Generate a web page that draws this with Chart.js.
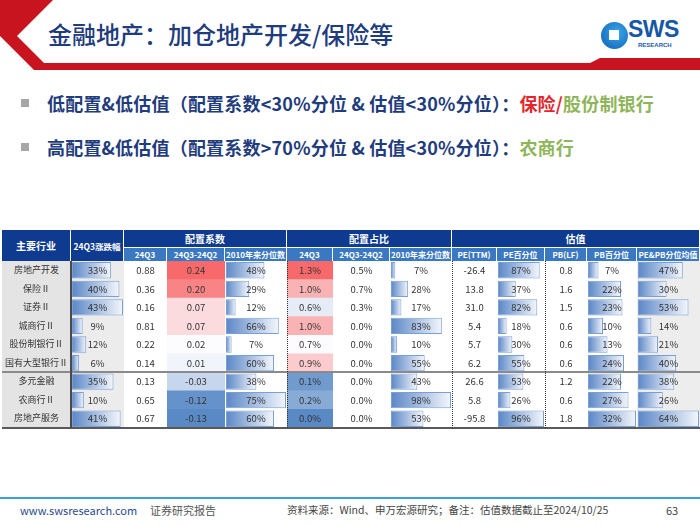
<!DOCTYPE html>
<html lang="zh-CN">
<head>
<meta charset="UTF-8">
<title>金融地产：加仓地产开发/保险等</title>
<script src="https://cdn.jsdelivr.net/npm/chart.js"></script>
<style>
  body { margin:0; width:700px; height:525px; position:relative; overflow:hidden; background:#fff;
         font-family:"Noto Sans CJK SC","Noto Sans",sans-serif; }
  .abs { position:absolute; }
  .title { left:48px; top:16px; font-size:24px; font-weight:500; color:#1f3c7d; white-space:nowrap; }
  .bullet { left:47px; font-size:18px; font-weight:bold; color:#1f3c7d; white-space:nowrap; letter-spacing:0.2px; }
  .sq { left:21px; width:8px; height:8px; background:#a6a6a6; }
  .hd { box-sizing:border-box; color:#fff; font-weight:bold; text-align:center; white-space:nowrap;
        border-right:1px solid #fff; display:flex; align-items:center; justify-content:center; }
  .cell { text-align:center; font-size:9.5px; color:#333; white-space:nowrap; z-index:3; }
  .foot { top:502px; white-space:nowrap; }
</style>
</head>
<body>
  <!-- red chevron + band -->
  <svg class="abs" style="left:0;top:0;z-index:0" width="700" height="80">
    <polygon points="0,0 53,0 17,36 44,63 590,63 600,58 700,58 700,70 34,70 0,36" fill="#c8141e"/>
  </svg>
  <div class="abs title">金融地产：加仓地产开发/保险等</div>

  <!-- logo -->
  <div class="abs" style="left:601px;top:22px;width:27px;height:27px;border-radius:50%;background:radial-gradient(circle at 60% 40%,#3aa6ea,#0d5fb0);"></div>
  <div class="abs" style="left:609px;top:30px;width:10px;height:10px;background:#fff;"></div>
  <div class="abs" style="left:628px;top:16px;font-size:23px;font-weight:bold;color:#1658a8;font-family:'Liberation Sans',sans-serif;letter-spacing:-0.5px;">SWS</div>
  <div class="abs" style="left:638px;top:42px;font-size:6px;font-weight:bold;color:#1658a8;font-family:'Liberation Sans',sans-serif;">RESEARCH</div>

  <!-- bullets -->
  <div class="abs sq" style="top:99px"></div>
  <div class="abs bullet" style="top:90px">低配置&amp;低估值（配置系数&lt;30%分位 &amp; 估值&lt;30%分位）：<span style="color:#e3262b">保险/</span><span style="color:#8fb55a">股份制银行</span></div>
  <div class="abs sq" style="top:143px"></div>
  <div class="abs bullet" style="top:134px">高配置&amp;低估值（配置系数&gt;70%分位 &amp; 估值&lt;30%分位）：<span style="color:#8fb55a">农商行</span></div>

  <div id="table"></div>

  <!-- footer -->
  <div class="abs" style="left:0;top:497px;width:700px;height:2px;background:#3aa0d8"></div>
  <div class="abs foot" style="left:20px;font-size:11px;color:#2a4b8d">www.swsresearch.com</div>
  <div class="abs foot" style="left:150px;font-size:11px;color:#555">证券研究报告</div>
  <div class="abs foot" style="left:287px;font-size:10.5px;color:#444">资料来源：Wind、申万宏源研究；备注：估值数据截止至2024/10/25</div>
  <div class="abs foot" style="left:666px;font-size:11px;color:#444">63</div>

<script>
// data
const industries    = ['房地产开发','保险Ⅱ','证券Ⅱ','城商行Ⅱ','股份制银行Ⅱ','国有大型银行Ⅱ','多元金融','农商行Ⅱ','房地产服务'];
const chg24Q3       = [33, 40, 43, 9, 12, 6, 35, 10, 41];            // 24Q3涨跌幅 %
const allocCoef     = [0.88, 0.36, 0.16, 0.81, 0.22, 0.14, 0.13, 0.65, 0.67];
const allocCoefChg  = [0.24, 0.20, 0.07, 0.07, 0.02, 0.01, -0.03, -0.12, -0.13];
const allocCoefPct  = [48, 29, 12, 66, 7, 60, 38, 75, 60];
const allocShare    = [1.3, 1.0, 0.6, 1.0, 0.7, 0.9, 0.1, 0.2, 0.0]; // %
const allocShareChg = [0.5, 0.7, 0.3, 0.0, 0.0, 0.0, 0.0, 0.0, 0.0];
const allocSharePct = [7, 28, 17, 83, 10, 55, 43, 98, 53];
const peTTM         = [-26.4, 13.8, 31.0, 5.4, 5.7, 6.2, 26.6, 5.8, -95.8];
const pePct         = [87, 37, 82, 18, 30, 55, 53, 26, 96];
const pbLF          = [0.8, 1.6, 1.5, 0.6, 0.6, 0.6, 1.2, 0.6, 1.8];
const pbPct         = [7, 22, 23, 10, 13, 24, 22, 27, 32];
const pePbPct       = [47, 30, 53, 14, 21, 40, 38, 26, 64];

const groupHeads = [['主要行业',0,0], ['24Q3涨跌幅',1,1], ['配置系数',2,4], ['配置占比',5,7], ['估值',8,12]];
const subHeads   = ['24Q3','24Q3-24Q2','2010年来分位数','24Q3','24Q3-24Q2','2010年来分位数',
                    'PE(TTM)','PE百分位','PB(LF)','PB百分位','PE&PB分位均值'];

// layout
const edges = [2, 71, 124, 167, 225, 287, 333, 390, 452, 497, 545, 587, 637, 700];
const TOP = 230, H1 = 17, H2 = 14, BODY = TOP + H1 + H2, BODY_H = 167, ROW_H = BODY_H / 9;

const pct = v => v + '%';
const f1 = v => v.toFixed(1);
const f2 = v => v.toFixed(2);
const columns = [
  { vals: industries, kind: 'text', bg: '#e4e4e4', size: 9 },
  { vals: chg24Q3, kind: 'bar', fmt: pct, bg: '#ececec' },
  { vals: allocCoef, kind: 'text', fmt: f2 },
  { vals: allocCoefChg, kind: 'heat', fmt: f2 },
  { vals: allocCoefPct, kind: 'bar', fmt: pct },
  { vals: allocShare, kind: 'heat', fmt: v => f1(v) + '%' },
  { vals: allocShareChg, kind: 'text', fmt: v => f1(v) + '%' },
  { vals: allocSharePct, kind: 'bar', fmt: pct },
  { vals: peTTM, kind: 'text', fmt: f1 },
  { vals: pePct, kind: 'bar', fmt: pct },
  { vals: pbLF, kind: 'text', fmt: f1 },
  { vals: pbPct, kind: 'bar', fmt: pct },
  { vals: pePbPct, kind: 'bar', fmt: pct, bg: '#ededed' }
];

const table = document.getElementById('table');
function box(x, y, w, h, css, text) {
  const d = document.createElement('div');
  d.className = 'abs';
  d.style.cssText += `left:${x}px;top:${y}px;width:${w}px;height:${h}px;` + (css || '');
  if (text !== undefined) d.textContent = text;
  table.appendChild(d);
  return d;
}

// headers
groupHeads.forEach(([t, a, b]) => {
  const span = a < 2;
  const d = box(edges[a], TOP, edges[b + 1] - edges[a], span ? H1 + H2 : H1,
    'background:#0e3b8f;font-size:' + (a === 1 ? 8.5 : 10) + 'px;', t);
  d.classList.add('hd');
});
subHeads.forEach((t, i) => {
  const d = box(edges[i + 2], TOP + H1, edges[i + 3] - edges[i + 2], H2,
    'background:#3b78c2;font-size:8px;border-top:1px solid #fff;', t);
  d.classList.add('hd');
});

// excel-like colour scales
const WHITE = [252, 252, 255], RED = [248, 105, 107], BLUE = [90, 138, 198];
const mix = (a, b, t) => `rgb(${a.map((c, k) => Math.round(c + (b[k] - c) * t)).join(',')})`;
function heatColors(vals) {
  const s = [...vals].sort((a, b) => a - b);
  const lo = s[0], hi = s[s.length - 1], mid = s[Math.floor(s.length / 2)];
  return vals.map(v => v >= mid ? mix(WHITE, RED, (v - mid) / (hi - mid)) : mix(WHITE, BLUE, (mid - v) / (mid - lo)));
}

function gradient(ctx) {
  const chart = ctx.chart, area = chart.chartArea;
  if (!area || ctx.raw === undefined) return '#5b87c7';
  const x1 = chart.scales.x.getPixelForValue(ctx.raw);
  const g = chart.ctx.createLinearGradient(area.left, 0, Math.max(x1, area.left + 1), 0);
  g.addColorStop(0, '#5b87c7');
  g.addColorStop(1, '#f4f7fc');
  return g;
}

columns.forEach((col, ci) => {
  const x = edges[ci], w = edges[ci + 1] - x;
  const holder = box(x, BODY, w, BODY_H, 'z-index:1;background:' + (col.bg || '#fff'));
  if (col.kind !== 'text') {
    const cv = document.createElement('canvas');
    cv.width = w; cv.height = BODY_H;
    holder.appendChild(cv);
    const heat = col.kind === 'heat';
    new Chart(cv, {
      type: 'bar',
      data: {
        labels: industries,
        datasets: [{
          data: heat ? col.vals.map(() => [0, 1]) : col.vals,
          backgroundColor: heat ? heatColors(col.vals) : gradient,
          borderColor: heat ? 'transparent' : '#7a9fd4',
          borderWidth: heat ? 0 : 1,
          borderSkipped: false,
          barPercentage: heat ? 1 : 0.88,
          categoryPercentage: 1
        }]
      },
      options: {
        indexAxis: 'y',
        responsive: false,
        animation: false,
        layout: { padding: heat ? 0 : { left: 1, right: 1 } },
        plugins: { legend: { display: false }, tooltip: { enabled: false } },
        scales: {
          x: { display: false, min: 0, max: heat ? 1 : Math.max(...col.vals) },
          y: { display: false }
        }
      }
    });
  }
  col.vals.forEach((v, r) => {
    const d = box(x, BODY + r * ROW_H, w, ROW_H,
      `line-height:${ROW_H}px;` + (col.size ? `font-size:${col.size}px;` : ''), col.fmt ? col.fmt(v) : v);
    d.classList.add('cell');
  });
});

// rules
box(edges[0], BODY + 6 * ROW_H - 1, 698, 2, 'z-index:4;background:#8a8a8a');
box(edges[0], BODY + BODY_H - 1, 698, 2, 'z-index:4;background:#5a5a5a');
box(edges[1] - 1, BODY, 1.5, BODY_H, 'z-index:4;background:#4a4a4a');
[5, 8, 10].forEach(i => box(edges[i], BODY, 0, BODY_H, 'z-index:4;border-left:1px dotted #333'));
</script>
</body>
</html>
